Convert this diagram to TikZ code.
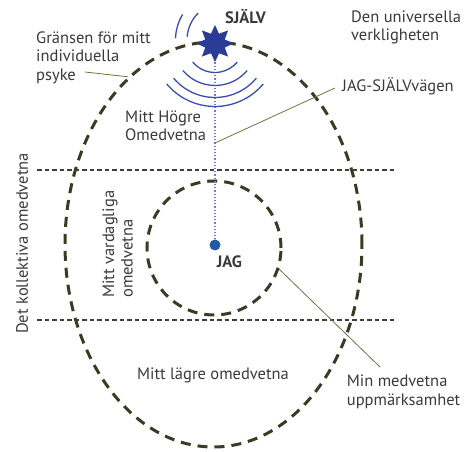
\documentclass[tikz,border=0pt]{standalone}
\usepackage{fontspec}
\setmainfont{PT Sans}
\usetikzlibrary{shapes.geometric, positioning}
\definecolor{gransfarg}{RGB}{60,58,36}
\definecolor{skiktfarg}{RGB}{62,62,52}
\definecolor{pekarfarg}{RGB}{95,125,60}
\definecolor{blafarg}{RGB}{42,60,150}
\definecolor{vagfarg}{RGB}{58,78,176}
\definecolor{prickfarg}{RGB}{105,120,232}
\definecolor{textfarg}{RGB}{58,58,58}
\tikzset{
x=1pt, y=1pt, % one unit is one pixel of the sketch
gransen/.style={draw=gransfarg, line width=3pt, dash pattern=on 10pt off 7pt, inner sep=0pt}, % the thick dashed borders
skikt/.style={draw=skiktfarg, line width=1.1pt, dash pattern=on 4.5pt off 3pt}, % the horizontal layer lines
pekare/.style={draw=pekarfarg, line width=0.8pt}, % thin green pointer lines
vaag/.style={draw=vagfarg, line width=1.3pt}, % the waves around the star
etikett/.style={text=textfarg, font=\fontsize{16.5}{18.5}\selectfont, inner sep=0pt, align=left}, % all texts
}

\begin{document}
\begin{tikzpicture}
    \useasboundingbox (0,0) rectangle (467,452);
    \node[gransen, ellipse, minimum width=297pt, minimum height=405pt] (psyke) at (213.5,207.5) {};
    \coordinate (ovre v) at (37,282);
    \coordinate (ovre h) at (397,282);
    \coordinate (nedre v) at (37,132);
    \coordinate (nedre h) at (397,132);
    \draw[skikt] (ovre v) -- (ovre h);
    \draw[skikt] (nedre v) -- (nedre h);
    \node[gransen, circle, minimum size=134pt] (medvetet) at (214,204) {};
    \node[star, star points=8, star point ratio=1.75, minimum size=37pt, inner sep=0pt, fill=blafarg] (sjalv) at (215,408.5) {};
    \node[circle, minimum size=11pt, inner sep=0pt, fill=blafarg!85!cyan] (jag) at (215,207) {};
    \draw[draw=prickfarg, line width=1.2pt, dash pattern=on 1.2pt off 2pt] (sjalv) -- (jag);
    \foreach \r in {29,42,54,63}
      \draw[vaag] ([shift={(220:\r pt)}]sjalv.center) arc[start angle=220, end angle=320, radius=\r pt];
    \coordinate (vagcentrum) at (225,412);
    \draw[vaag] ([shift={(135:38pt)}]vagcentrum) arc[start angle=135, end angle=175, radius=38pt];
    \draw[vaag] ([shift={(149:49.5pt)}]vagcentrum) arc[start angle=149, end angle=178, radius=49.5pt];

    \node[etikett, font=\fontsize{16.5}{18.5}\selectfont\bfseries, anchor=base] (sjalvtext) at (245.5,428.7) {SJÄLV};
    \node[etikett, font=\fontsize{16.5}{18.5}\selectfont\bfseries, anchor=base] (jagtext) at (229.5,184) {JAG};
    \node[etikett, anchor=west] (universum) at (351,424.5) {Den universella\\verkligheten};
    \node[etikett, anchor=west] (gransen) at (36,394.2) {Gränsen för mitt\\individuella\\psyke};
    \node[etikett, anchor=base west] (vagen) at (342,360) {JAG-SJÄLVvägen};
    \node[etikett, anchor=west] (hogre) at (125,326) {Mitt Högre\\Omedvetna};
    \node[etikett, anchor=west, rotate=90] (vardag) at (117.7,154) {Mitt vardagliga\\omedvetna};
    \node[etikett, anchor=base, rotate=90] (kollektiv) at (28,208.5) {Det kollektiva omedvetna};
    \node[etikett, anchor=base] (lagre) at (213,72) {Mitt lägre omedvetna};
    \node[etikett, anchor=west] (uppmarksam) at (346.7,60) {Min medvetna\\uppmärksamhet};

    \coordinate (gransen spets) at (85,380);
    \coordinate (vagpunkt) at (215,309);
    \coordinate (vagen spets) at (335,364);
    \coordinate (uppmarksam spets) at (380,85);
    \draw[pekare] (gransen spets) -- (psyke.117.5);
    \draw[pekare] (vagpunkt) -- (vagen spets);
    \draw[pekare] (medvetet.-18.4) -- (uppmarksam spets);
\end{tikzpicture}
\end{document}
